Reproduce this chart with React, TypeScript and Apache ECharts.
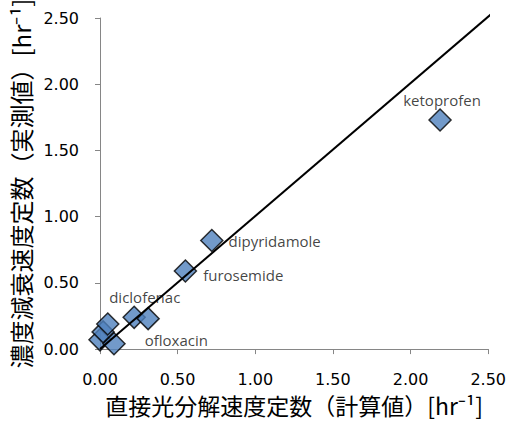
import React, { useEffect, useRef } from "react";
import * as echarts from "echarts";

// Calculated direct photolysis rate constant (x) vs measured decay rate constant (y)
const calcRate = [0.0, 0.02, 0.05, 0.09, 0.22, 0.31, 0.55, 0.72, 2.19];
const measRate = [0.07, 0.13, 0.19, 0.04, 0.24, 0.23, 0.59, 0.82, 1.73];
const pointNames = ["", "", "diclofenac", "ofloxacin", "", "", "furosemide", "dipyridamole", "ketoprofen"];

// 1:1 reference line
const lineX = [0, 2.52];
const lineY = [0, 2.53];

const axisTicks = [0, 0.5, 1.0, 1.5, 2.0, 2.5];

const xTitle = "直接光分解速度定数（計算値）[hr⁻¹]";
const yTitle = "濃度減衰速度定数（実測値）[hr⁻¹]";

const labelStyles: Record<string, any> = {
  ketoprofen: { position: "top", distance: 1, offset: [2, 0] },
  dipyridamole: { position: "right", distance: 5, offset: [0, 1] },
  furosemide: { position: "right", distance: 6, offset: [0, 4] },
  diclofenac: { position: "top", distance: 5, offset: [37, -3] },
  ofloxacin: { position: "right", distance: 19, offset: [0, -4] },
};

const pageCss = "html,body{margin:0;padding:0;overflow:hidden;height:423px}#root{height:423px;overflow:hidden}svg{display:block}";

export default function App() {
  const ref = useRef<HTMLDivElement>(null);
  useEffect(() => {
    if (!ref.current) return;
    document.body.style.margin = "0";
    const chart = echarts.init(ref.current, undefined, { renderer: "svg" });
    const scatterData = calcRate.map((x, i) => {
      const name = pointNames[i];
      const item: any = { value: [x, measRate[i]], name };
      if (name) {
        const s = labelStyles[name];
        item.label = {
          show: true,
          formatter: name,
          position: s.position,
          distance: s.distance,
          offset: s.offset,
        };
      }
      return item;
    });
    chart.setOption({
      animation: false,
      backgroundColor: "#ffffff",
      grid: { left: 100, right: 18, top: 18, bottom: 65, containLabel: false },
      xAxis: {
        type: "value",
        min: axisTicks[0],
        max: axisTicks[axisTicks.length - 1],
        interval: 0.5,
        name: xTitle,
        nameLocation: "middle",
        nameGap: 40,
        nameTextStyle: { fontFamily: "Noto Sans CJK JP", fontSize: 23, color: "#000", lineHeight: 26 },
        axisLine: { show: true, lineStyle: { color: "#868686", width: 1 } },
        axisTick: { show: true, inside: false, length: 5, lineStyle: { color: "#868686" } },
        axisLabel: {
          formatter: (v: number) => v.toFixed(2),
          fontFamily: "DejaVu Sans",
          fontSize: 16,
          lineHeight: 16,
          color: "#000",
          margin: 22,
        },
        splitLine: { show: false },
      },
      yAxis: {
        type: "value",
        min: axisTicks[0],
        max: axisTicks[axisTicks.length - 1],
        interval: 0.5,
        name: yTitle,
        nameLocation: "middle",
        nameRotate: 90,
        nameGap: 66,
        nameTextStyle: { fontFamily: "Noto Sans CJK JP", fontSize: 24, color: "#000" },
        axisLine: { show: true, lineStyle: { color: "#868686", width: 1 } },
        axisTick: { show: true, inside: false, length: 5, lineStyle: { color: "#868686" } },
        axisLabel: {
          formatter: (v: number) => v.toFixed(2),
          fontFamily: "DejaVu Sans",
          fontSize: 16,
          color: "#000",
          margin: 21,
        },
        splitLine: { show: false },
      },
      series: [
        {
          type: "line",
          data: lineX.map((x, i) => [x, lineY[i]]),
          symbol: "none",
          clip: false,
          lineStyle: { color: "#000", width: 2 },
          silent: true,
          z: 3,
        },
        {
          type: "scatter",
          data: scatterData,
          symbol: "diamond",
          symbolSize: 22,
          itemStyle: { color: "#4F81BD", borderColor: "#000", borderWidth: 1.5 },
          label: {
            fontFamily: "Open Sans",
            fontSize: 15,
            color: "#111",
          },
          z: 2,
        },
      ],
    });
    return () => chart.dispose();
  }, []);
  return (
    <>
      <style>{pageCss}</style>
      <div ref={ref} style={{ width: 509, height: 423 }} />
    </>
  );
}
